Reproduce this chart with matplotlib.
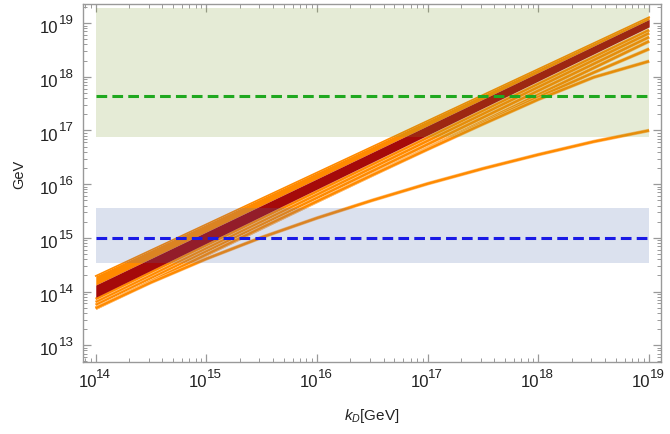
import numpy as np
import matplotlib
matplotlib.use('Agg')
import matplotlib.pyplot as plt
import matplotlib.patheffects as pe
from matplotlib.ticker import LogLocator, NullFormatter

plt.rcParams['font.family'] = ['Liberation Sans', 'DejaVu Sans']
plt.rcParams['mathtext.fontset'] = 'custom'
plt.rcParams['mathtext.rm'] = 'Liberation Sans'
plt.rcParams['mathtext.it'] = 'Liberation Sans:italic'

# ---- data (GeV) ----
k_ends = [1e14, 1e19]
orange_band_top = [1.95e14, 1.29e19]
red_band_top = [1.32e14, 1.17e19]
red_band_bot = [7.8e13, 8.5e18]

straight_lines = [
    [7.2e13, 7.4e18],
    [6.3e13, 6.5e18],
    [5.6e13, 5.5e18],
    [4.9e13, 4.6e18],
]

k_half = [1e14, 3.16e14, 1e15, 3.16e15, 1e16, 3.16e16, 1e17, 3.16e17, 1e18, 3.16e18, 1e19]
bent_line_1 = [4.9e13, 1.55e14, 4.9e14, 1.53e15, 4.8e15, 1.48e16, 4.6e16, 1.4e17, 4.2e17, 1.2e18, 3.3e18]
bent_line_2 = [4.9e13, 1.55e14, 4.9e14, 1.55e15, 4.8e15, 1.48e16, 4.47e16, 1.32e17, 3.8e17, 9.8e17, 1.95e18]
bent_line_3 = [4.9e13, 1.48e14, 4.07e14, 1.02e15, 2.34e15, 5.0e15, 1.02e16, 1.95e16, 3.55e16, 6.2e16, 1.0e17]

green_band = [7.6e16, 1.9e19]
green_level = 4.3e17
blue_band = [3.4e14, 3.6e15]
blue_level = 1e15

x_exponents = [14, 15, 16, 17, 18, 19]
y_exponents = [13, 14, 15, 16, 17, 18, 19]

ORANGE = '#ff8a00'
HALO = '#ffc27a'
DARKRED = '#a50a0a'
TXT = '#222222'

W, H = 670, 435
L, R, T, B = 83, 661, 5.3, 363.3
fig = plt.figure(figsize=(W/100, H/100), dpi=100)
ax = fig.add_axes([L/W, 1-B/H, (R-L)/W, (B-T)/H])
ax.set_xscale('log')
ax.set_yscale('log')

# orange wide band and dark red band
ax.fill_between(k_ends, red_band_top, orange_band_top, color=ORANGE, lw=0, zorder=2)
ax.fill_between(k_ends, red_band_bot, red_band_top, color=DARKRED, lw=0, zorder=2.2)
ax.plot(k_ends, orange_band_top, color=ORANGE, lw=1.2, zorder=2)

halo = [pe.Stroke(linewidth=2.6, foreground=HALO), pe.Normal()]
for ys in straight_lines:
    ax.plot(k_ends, ys, color=ORANGE, lw=1.7, zorder=2.1, solid_capstyle='butt',
            path_effects=halo)
for ys in (bent_line_1, bent_line_2, bent_line_3):
    ax.plot(k_half, ys, color=ORANGE, lw=1.7, zorder=2.1, solid_capstyle='butt',
            solid_joinstyle='round', path_effects=halo)

# translucent bands on top
ax.fill_between(k_ends, [green_band[0]]*2, [green_band[1]]*2,
                color=(0.5, 0.62, 0.2), alpha=0.2, lw=0, zorder=3)
ax.fill_between(k_ends, [blue_band[0]]*2, [blue_band[1]]*2,
                color=(0.3, 0.42, 0.68), alpha=0.2, lw=0, zorder=3)

ax.plot(k_ends, [green_level]*2, color='#1fa81f', lw=2.2, dashes=(3.5, 1.7), zorder=4)
ax.plot(k_ends, [blue_level]*2, color='#1a1ae6', lw=2.2, dashes=(3.5, 1.7), zorder=4)

ax.set_xlim(7.67e13, 1.28e19)
ax.set_ylim(4.8e12, 2.24e19)

ax.xaxis.set_major_locator(LogLocator(base=10, numticks=20))
ax.yaxis.set_major_locator(LogLocator(base=10, numticks=20))
ax.xaxis.set_minor_locator(LogLocator(base=10, subs=np.arange(2, 10), numticks=50))
ax.yaxis.set_minor_locator(LogLocator(base=10, subs=np.arange(2, 10), numticks=50))
ax.xaxis.set_minor_formatter(NullFormatter())
ax.yaxis.set_minor_formatter(NullFormatter())

for s in ax.spines.values():
    s.set_color('#999999')
    s.set_linewidth(1.0)
ax.tick_params(which='both', direction='in', top=True, right=True, color='#999999',
               labelbottom=False, labelleft=False)
ax.tick_params(which='major', length=5.5, width=0.9)
ax.tick_params(which='minor', length=2.8, width=0.7)

PT = 0.72  # points per pixel
for e in x_exponents:
    ax.annotate('10', xy=(10.0**e, 0), xycoords=('data', 'axes fraction'),
                xytext=(1*PT, -23.4*PT), textcoords='offset points',
                ha='right', va='baseline', fontsize=12, color=TXT)
    ax.annotate(str(e), xy=(10.0**e, 0), xycoords=('data', 'axes fraction'),
                xytext=(0.5*PT, -14.7*PT), textcoords='offset points',
                ha='left', va='baseline', fontsize=9.5, color=TXT)
for e in y_exponents:
    ax.annotate('10', xy=(0, 10.0**e), xycoords=('axes fraction', 'data'),
                xytext=(-25*PT, -9.3*PT), textcoords='offset points',
                ha='right', va='baseline', fontsize=12, color=TXT)
    ax.annotate(str(e), xy=(0, 10.0**e), xycoords=('axes fraction', 'data'),
                xytext=(-24.5*PT, 0), textcoords='offset points',
                ha='left', va='baseline', fontsize=9.5, color=TXT)

fig.text(372/W, 1-416/H, r'$k_D$[GeV]', ha='center', va='center', fontsize=11, color=TXT)
fig.text(19/W, 1-174/H, 'GeV', rotation=90, ha='center', va='center', fontsize=10.5, color=TXT)

fig.savefig('out.png', dpi=100)
